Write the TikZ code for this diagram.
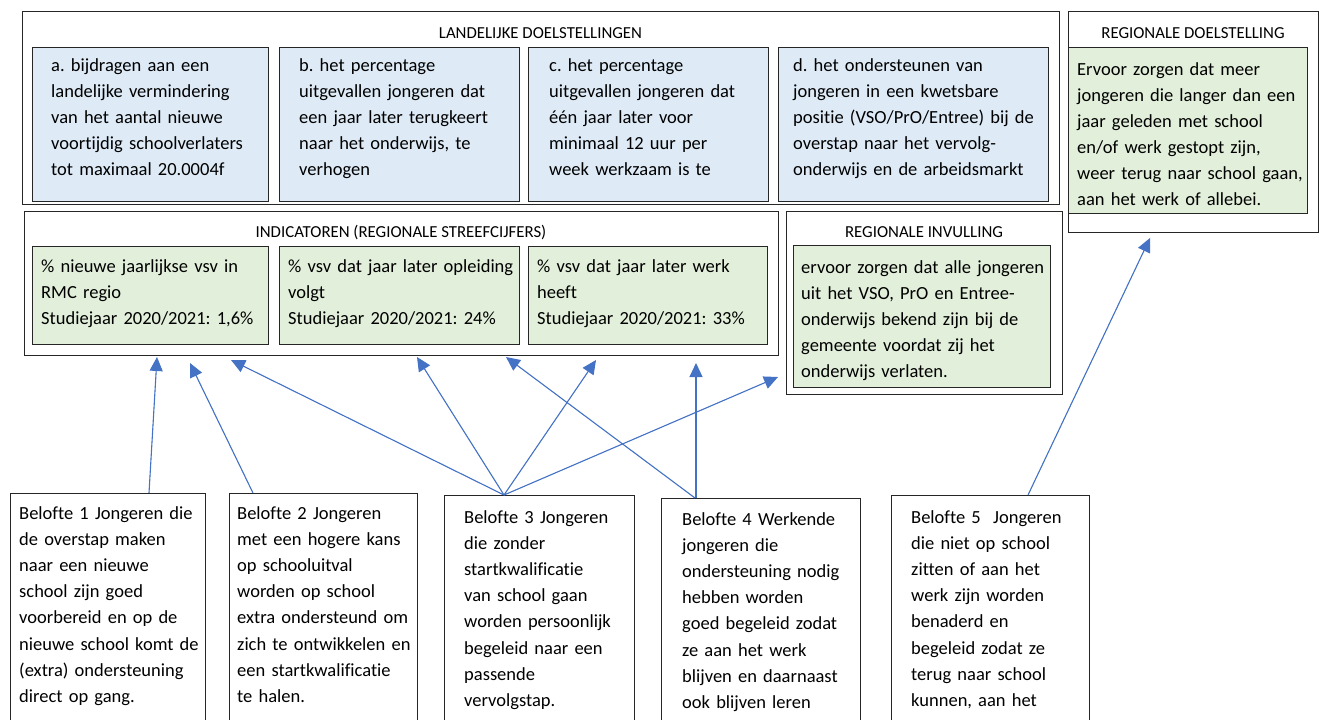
\documentclass[tikz,border=0pt]{standalone}
\usepackage{fontspec}
\setmainfont{Carlito}[Ligatures={NoCommon}]
\frenchspacing
\usetikzlibrary{arrows.meta}
\definecolor{blueF}{HTML}{DEEBF7}
\definecolor{greenF}{HTML}{E2EFDA}
\definecolor{arrB}{HTML}{4472C4}
\definecolor{edge}{HTML}{262626}
\tikzset{
  frame/.style={draw=edge, line width=1.1pt, inner sep=0pt, anchor=north west, fill=white},
  bluebox/.style={frame, fill=blueF},
  greenbox/.style={frame, fill=greenF},
  body/.style={font=\fontsize{18.5}{26}\selectfont, anchor=base west, inner sep=0pt, align=left, text width=320pt},
  title/.style={font=\fontsize{16.8}{20}\selectfont, anchor=base, inner sep=0pt},
  arr/.style={draw=arrB, line width=1.1pt, -{Triangle[length=14pt,width=13pt]}, fill=arrB},
}
\begin{document}
\begin{tikzpicture}[x=1pt,y=-1pt]
\useasboundingbox (0,0) rectangle (1325,720);
\clip (0,0) rectangle (1325,720);
% landelijke doelstellingen
\node[frame, minimum width=1037pt, minimum height=193pt] (land) at (22,11) {};
\node[title] (landT) at (540.5,38) {LANDELIJKE DOELSTELLINGEN};
\node[bluebox, minimum width=236pt, minimum height=154pt] (ba) at (32,47) {};
\node[bluebox, minimum width=240pt, minimum height=154pt] (bb) at (279,47) {};
\node[bluebox, minimum width=240pt, minimum height=154pt] (bc) at (528,47) {};
\node[bluebox, minimum width=270pt, minimum height=154pt] (bd) at (778,47) {};
\node[body] (ta) at (51,71) {a. bijdragen aan een\\landelijke vermindering\\van het aantal nieuwe\\voortijdig schoolverlaters\\tot maximaal 20.0004f};
\node[body] (tb) at (299,71) {b. het percentage\\uitgevallen jongeren dat\\een jaar later terugkeert\\naar het onderwijs, te\\verhogen};
\node[body] (tc) at (549,71) {c. het percentage\\uitgevallen jongeren dat\\één jaar later voor\\minimaal 12 uur per\\week werkzaam is te};
\node[body] (td) at (793,71) {d. het ondersteunen van\\jongeren in een kwetsbare\\positie (VSO/PrO/Entree) bij de\\overstap naar het vervolg-\\onderwijs en de arbeidsmarkt};
% regionale doelstelling
\node[frame, minimum width=250pt, minimum height=221pt] (rd) at (1068,11) {};
\node[title] (rdT) at (1193,38) {REGIONALE DOELSTELLING};
\node[greenbox, minimum width=239pt, minimum height=166pt] (rdg) at (1068,47) {};
\node[body] (trd) at (1077,75) {Ervoor zorgen dat meer\\jongeren die langer dan een\\jaar geleden met school\\en/of werk gestopt zijn,\\weer terug naar school gaan,\\aan het werk of allebei.};
% indicatoren
\node[frame, minimum width=754pt, minimum height=144pt] (ind) at (24,211) {};
\node[title] (indT) at (401,237) {INDICATOREN (REGIONALE STREEFCIJFERS)};
\node[greenbox, minimum width=236pt, minimum height=98pt] (i1) at (32,246) {};
\node[greenbox, minimum width=240pt, minimum height=98pt] (i2) at (279,246) {};
\node[greenbox, minimum width=239pt, minimum height=98pt] (i3) at (528,246) {};
\node[body] (ti1) at (41,272) {\% nieuwe jaarlijkse vsv in\\RMC regio\\Studiejaar 2020/2021: 1,6\%};
\node[body] (ti2) at (288,272) {\% vsv dat jaar later opleiding\\volgt\\Studiejaar 2020/2021: 24\%};
\node[body] (ti3) at (537,272) {\% vsv dat jaar later werk\\heeft\\Studiejaar 2020/2021: 33\%};
% regionale invulling
\node[frame, minimum width=276pt, minimum height=183pt] (ri) at (786,211) {};
\node[title] (riT) at (924,237) {REGIONALE INVULLING};
\node[greenbox, minimum width=257pt, minimum height=142pt] (rig) at (793,245) {};
\node[body] (tri) at (801,273) {ervoor zorgen dat alle jongeren\\uit het VSO, PrO en Entree-\\onderwijs bekend zijn bij de\\gemeente voordat zij het\\onderwijs verlaten.};
% beloftes
\node[frame, minimum width=195pt, minimum height=260pt] (b1) at (10,493) {};
\node[frame, minimum width=188pt, minimum height=260pt] (b2) at (229,493) {};
\node[frame, minimum width=190pt, minimum height=260pt] (b3) at (444,495) {};
\node[frame, minimum width=199pt, minimum height=260pt] (b4) at (661,498) {};
\node[frame, minimum width=198pt, minimum height=260pt] (b5) at (891,495) {};
\node[body, font=\fontsize{18.5}{26.2}\selectfont] (tb1) at (19,519) {Belofte 1 Jongeren die\\de overstap maken\\naar een nieuwe\\school zijn goed\\voorbereid en op de\\nieuwe school komt de\\(extra) ondersteuning\\direct op gang.};
\node[body, font=\fontsize{18.5}{26.2}\selectfont] (tb2) at (237,519) {Belofte 2 Jongeren\\met een hogere kans\\op schooluitval\\worden op school\\extra ondersteund om\\zich te ontwikkelen en\\een startkwalificatie\\te halen.};
\node[body, font=\fontsize{18.5}{26.2}\selectfont] (tb3) at (464,523) {Belofte 3 Jongeren\\die zonder\\startkwalificatie\\van school gaan\\worden persoonlijk\\begeleid naar een\\passende\\vervolgstap.};
\node[body, font=\fontsize{18.5}{26.2}\selectfont] (tb4) at (682,525) {Belofte 4 Werkende\\jongeren die\\ondersteuning nodig\\hebben worden\\goed begeleid zodat\\ze aan het werk\\blijven en daarnaast\\ook blijven leren};
\node[body, font=\fontsize{18.5}{26.2}\selectfont] (tb5) at (911,523) {Belofte 5~~Jongeren\\die niet op school\\zitten of aan het\\werk zijn worden\\benaderd en\\begeleid zodat ze\\terug naar school\\kunnen, aan het};
% arrow tips
\coordinate (p1) at (157,357);
\coordinate (p2) at (190,363);
\coordinate (p3) at (231,360);
\coordinate (p4) at (417,357);
\coordinate (p5) at (596,360);
\coordinate (p6) at (778,377);
\coordinate (p7) at (506,357);
\coordinate (p8) at (696,363);
\coordinate (p9) at (1150,238);
\draw[arr] ([xshift=139pt]b1.north west) -- (p1);
\draw[arr] ([xshift=24pt]b2.north west) -- (p2);
\draw[arr] ([xshift=60pt]b3.north west) -- (p3);
\draw[arr] ([xshift=60pt]b3.north west) -- (p4);
\draw[arr] ([xshift=60pt]b3.north west) -- (p5);
\draw[arr] ([xshift=60pt]b3.north west) -- (p6);
\draw[arr] ([xshift=34pt]b4.north west) -- (p7);
\draw[arr] ([xshift=35pt]b4.north west) -- (p8);
\draw[arr] ([xshift=137pt]b5.north west) -- (p9);
\end{tikzpicture}
\end{document}
